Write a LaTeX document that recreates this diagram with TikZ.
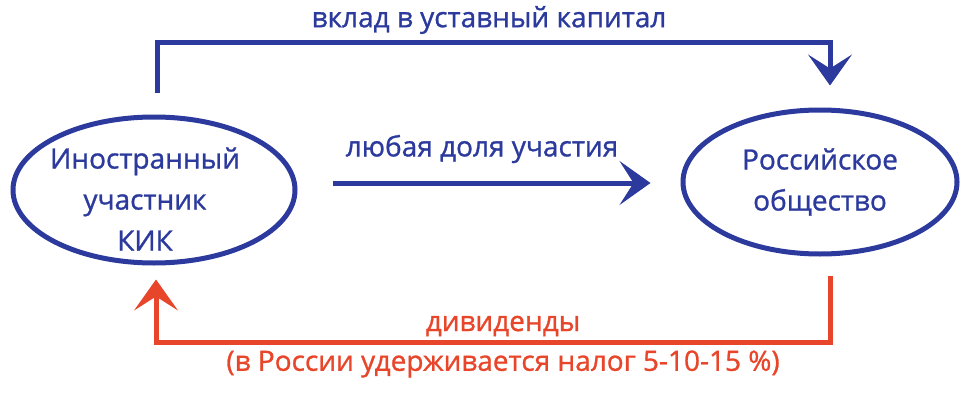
\documentclass[tikz,border=0pt]{standalone}
\usepackage{fontspec}
\setmainfont{Open Sans}[FakeBold=1]
\usetikzlibrary{arrows.meta,shapes.geometric}
\definecolor{pblue}{HTML}{2B3A9C}
\definecolor{pred}{HTML}{E8462B}
\begin{document}
\begin{tikzpicture}[x=1pt,y=-1pt,
  oval/.style={ellipse,draw=pblue,line width=5pt,inner sep=0pt},
  txt/.style={font=\fontsize{28}{41}\selectfont,align=center,inner sep=0pt},
  flow/.style={line width=5pt,line join=miter,-{Stealth[length=31pt,width=44pt,inset=14pt,line width=1pt]}},
]
\useasboundingbox (0,0) rectangle (972,404);
\node[oval,minimum width=282pt,minimum height=146pt] (L) at (154,190) {};
\node[txt,text=pblue] (Ltxt) at (145,199) {Иностранный\\участник\\КИК};
\node[oval,minimum width=274pt,minimum height=144pt,txt,text=pblue] (R) at (820,182) {Российское\\общество};
\coordinate (tp) at (490,43);
\coordinate (m) at (490,183);
\coordinate (bt) at (500,342);
\draw[flow,pblue,shorten <=22pt,shorten >=22pt] ([xshift=3pt]L.north) |- (tp) -| ([xshift=10pt]R.north);
\draw[flow,pblue,shorten <=35pt,shorten >=30pt] (L.east |- m) -- (R.west |- m);
\draw[flow,pred,shorten <=19pt,shorten >=14pt] ([xshift=10pt]R.south) |- (bt) -| ([xshift=2pt]L.south);
\node[txt,text=pblue] (t1) at (489,20) {вклад в уставный капитал};
\node[txt,text=pblue] (t2) at (482,149) {любая доля участия};
\node[txt,text=pred] (t3) at (503,326) {дивиденды};
\node[txt,text=pred] (t4) at (503,364) {(в России удерживается налог 5-10-15 \%)};
\end{tikzpicture}
\end{document}
